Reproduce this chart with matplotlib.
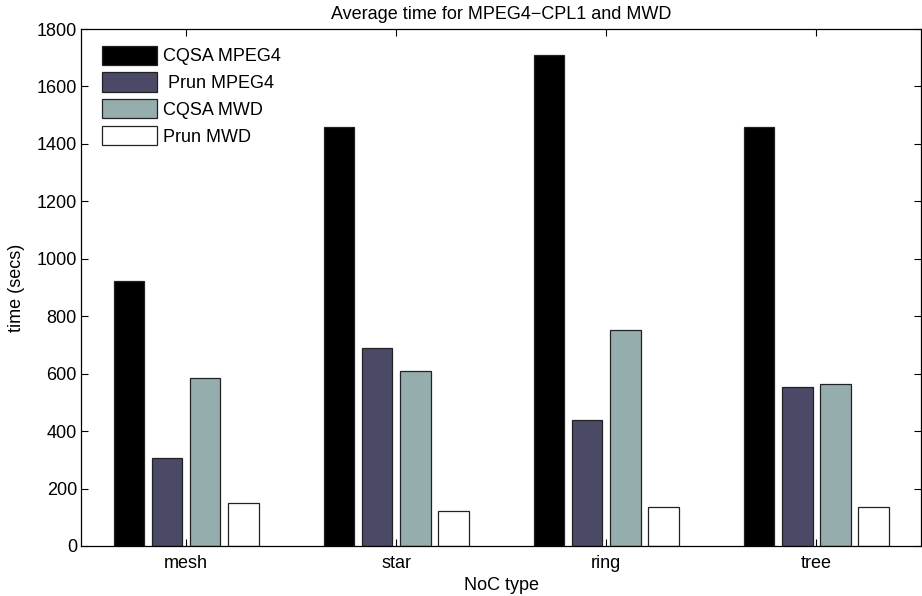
import matplotlib
matplotlib.use("Agg")
import matplotlib.pyplot as plt
import numpy as np

plt.rcParams['font.family'] = ['Liberation Sans', 'DejaVu Sans']

categories = ["mesh", "star", "ring", "tree"]
series_names = ["CQSA MPEG4", " Prun MPEG4", "CQSA MWD", "Prun MWD"]
cqsa_mpeg4 = [922, 1460, 1710, 1460]
prun_mpeg4 = [306, 690, 439, 553]
cqsa_mwd = [584, 608, 753, 564]
prun_mwd = [148, 123, 136, 136]
series = [cqsa_mpeg4, prun_mpeg4, cqsa_mwd, prun_mwd]

# bone(4) colormap entries
colors = ["#000000", "#4a4a67", "#95adad", "#ffffff"]

FS = 13

fig = plt.figure(figsize=(9.22, 5.96), dpi=100)
ax = fig.add_axes([0.0879, 0.0839, 0.9115, 0.8674])

x = np.arange(1, len(categories) + 1)
n = len(series)
group_width = min(0.8, n / (n + 1.5))
slot = group_width / n
bar_w = slot * 0.8
for i, (vals, name, c) in enumerate(zip(series, series_names, colors)):
    offs = (i - (n - 1) / 2) * slot
    ax.bar(x + offs, vals, width=bar_w, color=c, edgecolor="#222222",
           linewidth=0.9, label=name, zorder=2)

ax.set_xlim(0.5, 4.5)
ax.set_ylim(0, 1800)
ax.set_xticks(x)
ax.set_xticklabels(categories)
ax.set_yticks(np.arange(0, 1801, 200))
ax.tick_params(direction="in", length=5, width=0.8, top=True, right=True,
               labelsize=FS)
ax.tick_params(axis="x", pad=6.5)
ax.tick_params(axis="y", pad=3)
for sp in ax.spines.values():
    sp.set_linewidth(0.9)

ax.set_title("Average time for MPEG4\u2212CPL1 and MWD", fontsize=FS, pad=7.5)
ax.set_xlabel("NoC type", fontsize=FS, labelpad=3.5)
ax.set_ylabel("time (secs)", fontsize=FS, labelpad=8.5)

leg = ax.legend(loc="upper left", frameon=False, fontsize=FS,
                handlelength=3.05, handleheight=1.25, labelspacing=0.4,
                handletextpad=0.33, borderaxespad=0.0, borderpad=0.0,
                bbox_to_anchor=(0.025, 0.968))

fig.savefig("out.png", dpi=100)
